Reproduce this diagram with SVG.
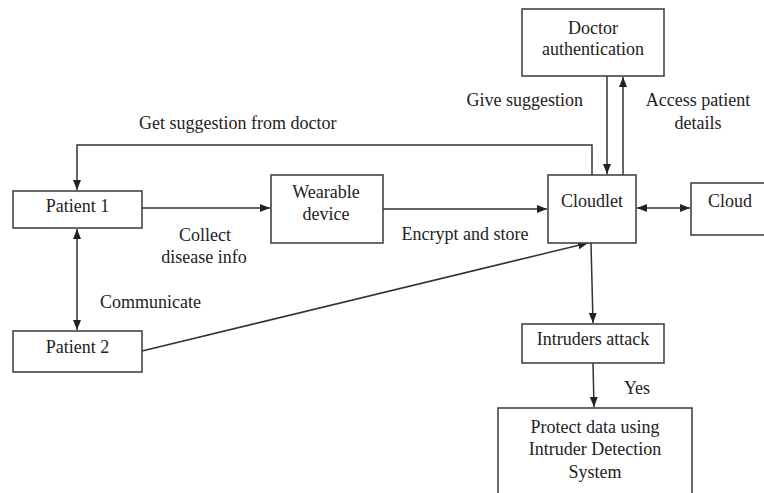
<svg xmlns="http://www.w3.org/2000/svg" width="764" height="493" viewBox="0 0 764 493">
<style>
.box{fill:#fff;stroke:#444;stroke-width:1.6}
.ln{fill:none;stroke:#333;stroke-width:1.5}
text{font-family:"Liberation Serif","Times New Roman",serif;font-size:18px;fill:#222}
.c{text-anchor:middle}
</style>
<defs>
<marker id="ah" viewBox="0 0 10 10" refX="10" refY="5" markerWidth="10" markerHeight="10" markerUnits="userSpaceOnUse" orient="auto-start-reverse">
<path d="M0,1 L10,5 L0,9 Z" fill="#222"/>
</marker>
</defs>
<rect width="764" height="493" fill="#fff"/>
<g id="connectors">
<path class="ln" d="M592,175 V145 H77 V190" marker-end="url(#ah)"/>
<line class="ln" x1="142" y1="208" x2="270" y2="208" marker-end="url(#ah)"/>
<line class="ln" x1="383" y1="209" x2="547" y2="209" marker-end="url(#ah)"/>
<line class="ln" x1="77" y1="229" x2="77" y2="330" marker-start="url(#ah)" marker-end="url(#ah)"/>
<line class="ln" x1="142" y1="351" x2="588" y2="243" marker-end="url(#ah)"/>
<line class="ln" x1="607" y1="76" x2="607" y2="174" marker-end="url(#ah)"/>
<line class="ln" x1="623" y1="175" x2="623" y2="77" marker-end="url(#ah)"/>
<line class="ln" x1="637" y1="208" x2="690" y2="208" marker-start="url(#ah)" marker-end="url(#ah)"/>
<line class="ln" x1="591" y1="243" x2="593" y2="323" marker-end="url(#ah)"/>
<line class="ln" x1="593" y1="363" x2="594" y2="407" marker-end="url(#ah)"/>
</g>
<g id="labels">
<text x="583" y="106" text-anchor="end">Give suggestion</text>
<text class="c" x="698" y="106">Access patient</text>
<text class="c" x="698" y="129">details</text>
<text x="139" y="129">Get suggestion from doctor</text>
<text class="c" x="205" y="241">Collect</text>
<text class="c" x="204" y="263">disease info</text>
<text class="c" x="465" y="240">Encrypt and store</text>
<text x="100" y="308">Communicate</text>
<text class="c" x="637" y="394">Yes</text>
</g>
<g id="doctor">
<rect class="box" x="522" y="9" width="142" height="67"/>
<text class="c" x="593" y="34">Doctor</text>
<text class="c" x="593" y="55">authentication</text>
</g>
<g id="patient1">
<rect class="box" x="13" y="191" width="129" height="37"/>
<text class="c" x="77.5" y="212">Patient 1</text>
</g>
<g id="wearable">
<rect class="box" x="271" y="175" width="112" height="68"/>
<text class="c" x="326" y="198">Wearable</text>
<text class="c" x="326" y="220">device</text>
</g>
<g id="cloudlet">
<rect class="box" x="548" y="175" width="88" height="68"/>
<text class="c" x="592" y="207">Cloudlet</text>
</g>
<g id="cloud">
<rect class="box" x="691" y="183" width="80" height="52"/>
<text class="c" x="730" y="207">Cloud</text>
</g>
<g id="patient2">
<rect class="box" x="13" y="331" width="129" height="41"/>
<text class="c" x="77.5" y="353">Patient 2</text>
</g>
<g id="intruders">
<rect class="box" x="522" y="324" width="142" height="39"/>
<text class="c" x="593" y="345">Intruders attack</text>
</g>
<g id="protect">
<rect class="box" x="498" y="408" width="194" height="100"/>
<text class="c" x="595" y="433">Protect data using</text>
<text class="c" x="595" y="455">Intruder Detection</text>
<text class="c" x="595" y="478">System</text>
</g>
</svg>
